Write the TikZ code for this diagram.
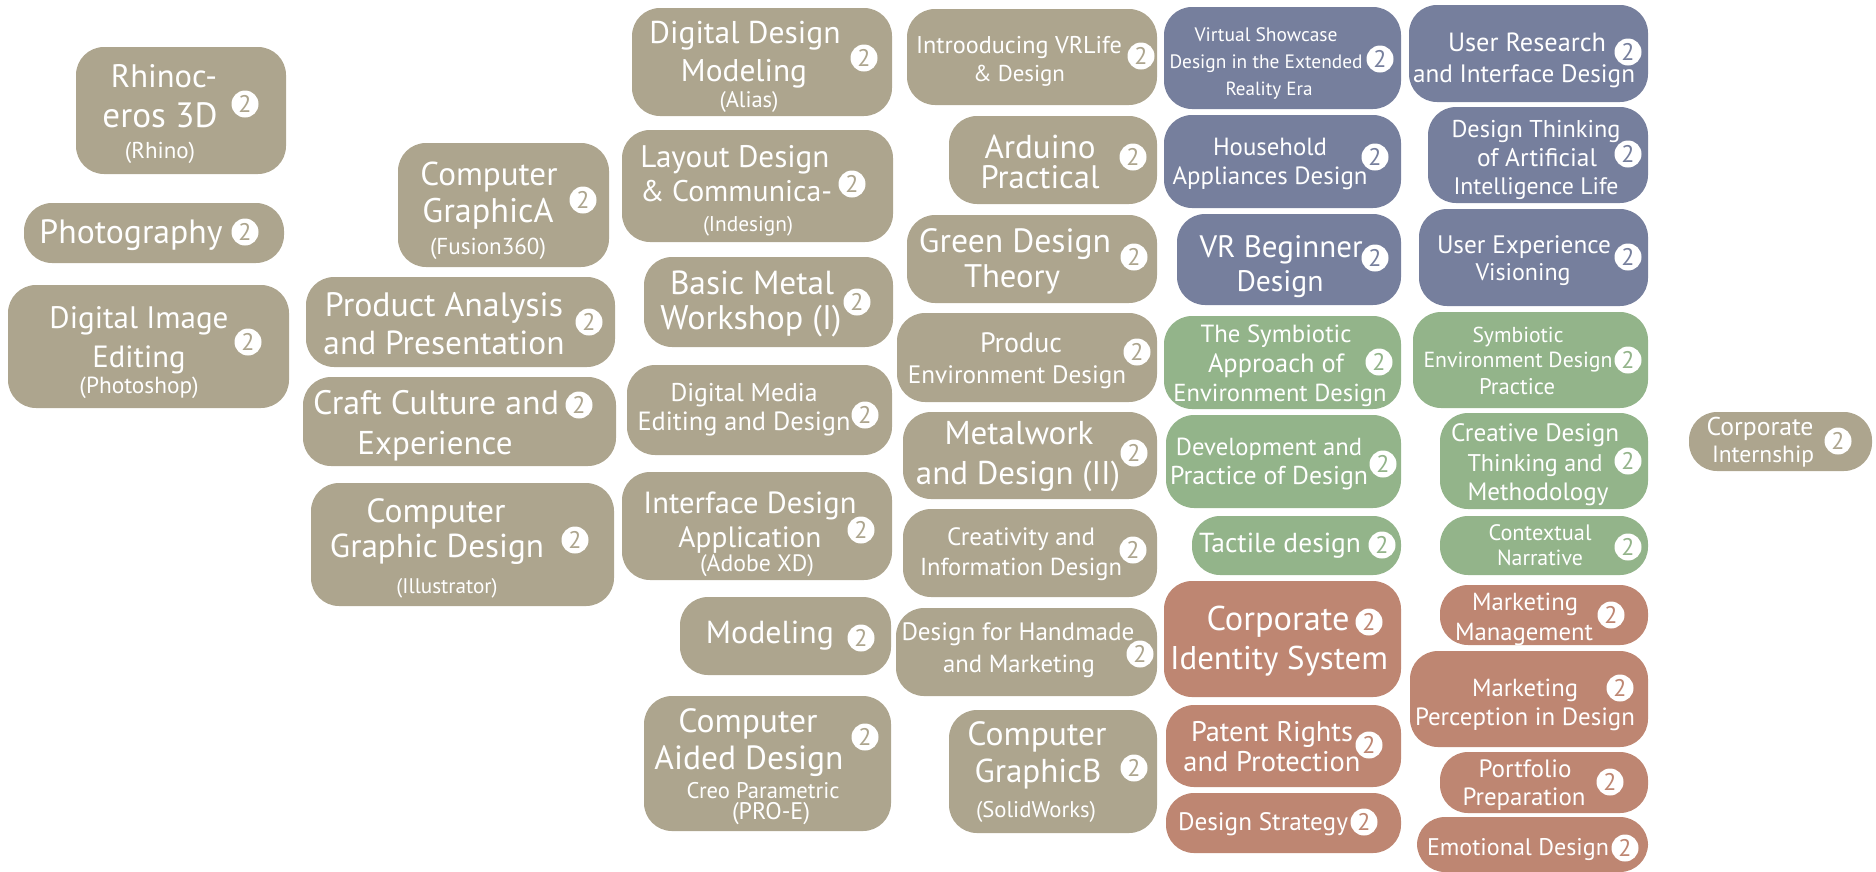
\documentclass[tikz,border=0pt]{standalone}
\usepackage{fontspec}
\setmainfont{PT Sans}
\usepackage{graphicx}
\definecolor{cTan}{HTML}{ADA58E}
\definecolor{cBlue}{HTML}{767F9D}
\definecolor{cGreen}{HTML}{93B48A}
\definecolor{cRed}{HTML}{BE8672}
\newcommand\bx[6]{\node[cbox,fill=#2,minimum width={(#5-#3)*1pt},minimum height={(#6-#4)*1pt}] (#1) at ({(#3+#5)/2},{(#4+#6)/2}) {};}
\newcommand\tl[5]{\node[txt] (#1) at (#3,#4) {\resizebox{#5pt}{!}{\vphantom{Ây}#2}};}
\newcommand\nm[4]{\node[num,text=#2] (#1) at (#3,#4) {2};}
\begin{document}
\begin{tikzpicture}[x=1pt,y=-1pt,
  cbox/.style={rectangle,rounded corners=28pt,inner sep=0pt,draw=none},
  txt/.style={inner sep=0pt,text=white,anchor=center},
  num/.style={circle,fill=white,minimum size=27pt,inner sep=0pt,font=\fontsize{24}{24}\selectfont}]
\useasboundingbox (0,0) rectangle (1876,871);
\clip (0,0) rectangle (1876,871);
% ---- tan boxes
\bx{rhino}{cTan}{76}{47}{286}{174}
\bx{photo}{cTan}{24}{203}{284}{263}
\bx{dimg}{cTan}{8}{285}{289}{408}
\bx{cga}{cTan}{398}{143}{609}{267}
\bx{prod}{cTan}{306}{277}{615}{367}
\bx{craft}{cTan}{303}{377}{616}{466}
\bx{cgd}{cTan}{311}{483}{614}{606}
\bx{ddm}{cTan}{632}{8}{892}{116}
\bx{vrl}{cTan}{907}{9}{1157}{105}
\bx{lay}{cTan}{622}{130}{893}{242}
\bx{ard}{cTan}{949}{116}{1157}{204}
\bx{grn}{cTan}{907}{215}{1157}{303}
\bx{met1}{cTan}{644}{257}{893}{347}
\bx{prc}{cTan}{897}{313}{1157}{402}
\bx{dmed}{cTan}{627}{365}{892}{455}
\bx{met2}{cTan}{903}{412}{1157}{499}
\bx{ifc}{cTan}{622}{472}{892}{580}
\bx{cre}{cTan}{903}{509}{1157}{597}
\bx{mod}{cTan}{680}{597}{891}{675}
\bx{hnd}{cTan}{896}{608}{1157}{696}
\bx{cad}{cTan}{644}{696}{891}{831}
\bx{cgb}{cTan}{949}{710}{1157}{833}
\bx{intern}{cTan}{1689}{412}{1872}{471}
% ---- blue boxes
\bx{vsh}{cBlue}{1164}{7}{1401}{109}
\bx{ures}{cBlue}{1409}{5}{1648}{102}
\bx{hou}{cBlue}{1164}{115}{1401}{208}
\bx{dtai}{cBlue}{1428}{107}{1648}{203}
\bx{vrb}{cBlue}{1177}{214}{1401}{305}
\bx{uxv}{cBlue}{1419}{209}{1648}{306}
% ---- green boxes
\bx{sym}{cGreen}{1164}{316}{1401}{409}
\bx{sedp}{cGreen}{1413}{312}{1648}{408}
\bx{devp}{cGreen}{1166}{415}{1401}{508}
\bx{cdtm}{cGreen}{1440}{413}{1648}{509}
\bx{tac}{cGreen}{1192}{516}{1401}{575}
\bx{ctx}{cGreen}{1440}{516}{1648}{575}
% ---- red boxes
\bx{cis}{cRed}{1164}{581}{1401}{697}
\bx{mkm}{cRed}{1440}{585}{1648}{645}
\bx{mkp}{cRed}{1410}{651}{1648}{747}
\bx{pat}{cRed}{1166}{705}{1401}{787}
\bx{por}{cRed}{1440}{752}{1648}{813}
\bx{dst}{cRed}{1166}{793}{1401}{853}
\bx{emo}{cRed}{1417}{817}{1648}{872}
% ---- texts, column 1
\tl{t1}{Rhinoc-}{164}{77}{106}
\tl{t2}{eros 3D}{160}{116}{115}
\tl{t3}{(Rhino)}{160}{151}{70}
\nm{n1}{cTan}{245}{104}
\tl{t4}{Photography}{131}{232}{183}
\nm{n2}{cTan}{245}{232}
\tl{t5}{Digital Image}{139}{318}{179}
\tl{t6}{Editing}{139}{357}{93}
\tl{t7}{(Photoshop)}{139}{386}{119}
\nm{n3}{cTan}{248}{342}
% ---- column 2
\tl{t8}{Computer}{489}{174}{137}
\tl{t9}{GraphicA}{488}{211}{131}
\tl{t10}{(Fusion360)}{488}{247}{116}
\nm{n4}{cTan}{583}{200}
\tl{t11}{Product Analysis}{444}{305}{238}
\tl{t12}{and Presentation}{444}{343}{241}
\nm{n5}{cTan}{589}{322}
\tl{t13}{Craft Culture and}{436}{403}{246}
\tl{t14}{Experience}{435}{444}{155}
\nm{n6}{cTan}{579}{405}
\tl{t15}{Computer}{436}{511}{139}
\tl{t16}{Graphic Design}{437}{547}{214}
\tl{t17}{(Illustrator)}{447}{587}{101}
\nm{n7}{cTan}{575}{540}
% ---- column 3
\tl{t18}{Digital Design}{745}{33}{191}
\tl{t19}{Modeling}{744}{71}{126}
\tl{t20}{(Alias)}{749}{100}{59}
\nm{n8}{cTan}{864}{58}
\tl{t23}{Layout Design}{735}{157}{189}
\tl{t24}{\& Communica-}{736}{192}{192}
\tl{t25}{(Indesign)}{748}{225}{90}
\nm{n10}{cTan}{852}{184}
\tl{t30}{Basic Metal}{752}{283}{164}
\tl{t31}{Workshop (I)}{751}{318}{181}
\nm{n13}{cTan}{857}{302}
\tl{t34}{Digital Media}{744}{393}{147}
\tl{t35}{Editing and Design}{744}{422}{213}
\nm{n15}{cTan}{865}{415}
\tl{t38}{Interface Design}{750}{503}{213}
\tl{t39}{Application}{750}{538}{143}
\tl{t40}{(Adobe XD)}{757}{564}{114}
\nm{n17}{cTan}{861}{530}
\tl{t43}{Modeling}{770}{633}{128}
\nm{n19}{cTan}{861}{638}
\tl{t46}{Computer}{748}{721}{139}
\tl{t47}{Aided Design}{749}{758}{189}
\tl{t48}{Creo Parametric}{763}{791}{153}
\tl{t49}{(PRO-E)}{771}{812}{78}
\nm{n21}{cTan}{865}{737}
% ---- column 4
\tl{t21}{Introoducing VRLife}{1019}{46}{206}
\tl{t22}{\& Design}{1019}{74}{92}
\nm{n9}{cTan}{1141}{56}
\tl{t26}{Arduino}{1040}{147}{111}
\tl{t27}{Practical}{1040}{178}{119}
\nm{n11}{cTan}{1133}{157}
\tl{t28}{Green Design}{1015}{241}{192}
\tl{t29}{Theory}{1012}{277}{96}
\nm{n12}{cTan}{1134}{257}
\tl{t32}{Produc}{1021}{343}{82}
\tl{t33}{Environment Design}{1017}{375}{218}
\nm{n14}{cTan}{1137}{352}
\tl{t36}{Metalwork}{1019}{433}{149}
\tl{t37}{and Design (II)}{1018}{474}{204}
\nm{n16}{cTan}{1134}{453}
\tl{t41}{Creativity and}{1021}{537}{148}
\tl{t42}{Information Design}{1021}{567}{202}
\nm{n18}{cTan}{1133}{550}
\tl{t44}{Design for Handmade}{1018}{632}{233}
\tl{t45}{and Marketing}{1019}{664}{152}
\nm{n20}{cTan}{1140}{654}
\tl{t50}{Computer}{1037}{734}{139}
\tl{t51}{GraphicB}{1038}{771}{127}
\tl{t52}{(SolidWorks)}{1036}{810}{120}
\nm{n22}{cTan}{1134}{768}
% ---- column 5
\tl{t53}{Virtual Showcase}{1266}{35}{143}
\tl{t54}{Design in the Extended}{1266}{62}{193}
\tl{t55}{Reality Era}{1269}{89}{87}
\nm{n23}{cBlue}{1380}{59}
\tl{t58}{Household}{1270}{147}{114}
\tl{t59}{Appliances Design}{1270}{176}{195}
\nm{n25}{cBlue}{1375}{157}
\tl{t63}{VR Beginner}{1281}{247}{163}
\tl{t64}{Design}{1280}{282}{87}
\nm{n27}{cBlue}{1375}{258}
\tl{t67}{The Symbiotic}{1276}{334}{151}
\tl{t68}{Approach of}{1276}{364}{136}
\tl{t69}{Environment Design}{1280}{393}{213}
\nm{n29}{cGreen}{1379}{362}
\tl{t75}{Development and}{1269}{447}{186}
\tl{t76}{Practice of Design}{1269}{476}{198}
\nm{n32}{cGreen}{1383}{464}
\tl{t80}{Tactile design}{1280}{543}{162}
\nm{n34}{cGreen}{1382}{545}
\tl{t83}{Corporate}{1278}{619}{143}
\tl{t84}{Identity System}{1279}{659}{218}
\nm{n36}{cRed}{1369}{622}
\tl{t89}{Patent Rights}{1272}{732}{162}
\tl{t90}{and Protection}{1272}{762}{177}
\nm{n39}{cRed}{1369}{745}
\tl{t93}{Design Strategy}{1263}{822}{170}
\nm{n41}{cRed}{1364}{822}
% ---- column 6
\tl{t56}{User Research}{1527}{43}{158}
\tl{t57}{and Interface Design}{1524}{74}{222}
\nm{n24}{cBlue}{1628}{52}
\tl{t60}{Design Thinking}{1536}{129}{169}
\tl{t61}{of Artificial}{1537}{158}{120}
\tl{t62}{Intelligence Life}{1536}{187}{165}
\nm{n26}{cBlue}{1628}{154}
\tl{t65}{User Experience}{1524}{245}{174}
\tl{t66}{Visioning}{1523}{273}{95}
\nm{n28}{cBlue}{1628}{257}
\tl{t70}{Symbiotic}{1518}{335}{91}
\tl{t71}{Environment Design}{1518}{360}{189}
\tl{t72}{Practice}{1517}{387}{76}
\nm{n30}{cGreen}{1628}{360}
\tl{t77}{Creative Design}{1535}{433}{168}
\tl{t78}{Thinking and}{1535}{464}{135}
\tl{t79}{Methodology}{1538}{492}{141}
\nm{n33}{cGreen}{1628}{461}
\tl{t81}{Contextual}{1540}{533}{103}
\tl{t82}{Narrative}{1540}{558}{86}
\nm{n35}{cGreen}{1628}{547}
\tl{t85}{Marketing}{1525}{602}{106}
\tl{t86}{Management}{1524}{632}{138}
\nm{n37}{cRed}{1611}{615}
\tl{t87}{Marketing}{1525}{688}{106}
\tl{t88}{Perception in Design}{1525}{717}{220}
\nm{n38}{cRed}{1620}{688}
\tl{t91}{Portfolio}{1525}{769}{93}
\tl{t92}{Preparation}{1524}{797}{123}
\nm{n40}{cRed}{1610}{782}
\tl{t94}{Emotional Design}{1518}{848}{182}
\nm{n42}{cRed}{1625}{848}
% ---- internship
\tl{t73}{Corporate}{1760}{427}{107}
\tl{t74}{Internship}{1763}{455}{102}
\nm{n31}{cTan}{1838}{441}
\end{tikzpicture}
\end{document}
